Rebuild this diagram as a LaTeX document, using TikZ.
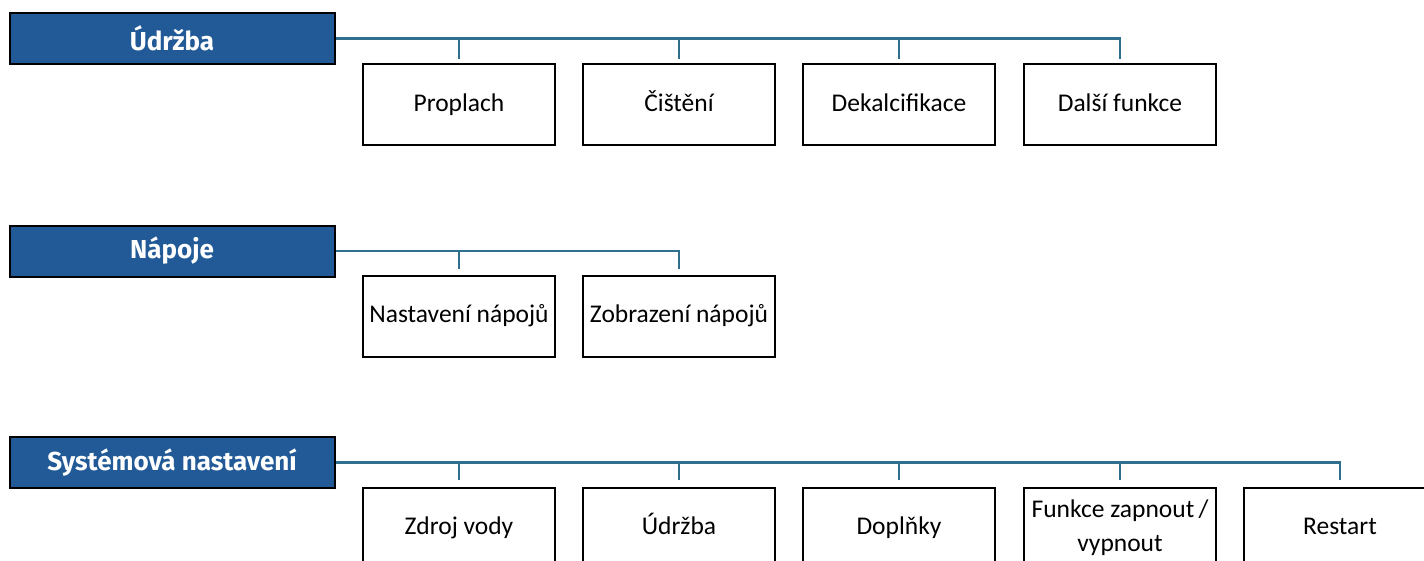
\documentclass[tikz,border=0pt]{standalone}
\usepackage{fontspec}
\setmainfont{Carlito}
\newfontfamily\headfont{Fira Sans}
\definecolor{headblue}{HTML}{215A96}
\definecolor{linkteal}{HTML}{2F6E8C}
\begin{document}
\begin{tikzpicture}[x=1pt,y=-1pt,
    head/.style={draw=black,line width=2pt,fill=headblue,text=white,
      minimum width=325pt,minimum height=51pt,inner sep=0pt,
      font=\headfont\bfseries\fontsize{26}{29}\selectfont},
    item/.style={draw=black,line width=2pt,fill=white,align=center,
      minimum width=192pt,minimum height=81pt,inner sep=0pt,
      font=\fontsize{25.5}{34}\selectfont},
    link/.style={draw=linkteal,line width=2.4pt}]
    \clip (0,0) rectangle (1424,560);
    \fill[white] (0,0) rectangle (1424,560);
    % headers
    \node[head] (hU) at (172,38.5) {Údržba};
    \node[head] (hN) at (172,251) {Nápoje};
    \node[head] (hS) at (172,462.5) {Systémová nastavení};
    % Údržba
    \node[item] (u1) at (459,104.5) {\strut Proplach};
    \node[item] (u2) at (679,104.5) {\strut Čištění};
    \node[item] (u3) at (899,104.5) {\strut Dekalcifikace};
    \node[item] (u4) at (1120,104.5) {\strut Další funkce};
    % Nápoje
    \node[item] (n1) at (459,316) {\strut Nastavení nápojů};
    \node[item] (n2) at (679,316) {\strut Zobrazení nápojů};
    % Systémová nastavení
    \node[item] (s1) at (459,528) {\strut Zdroj vody};
    \node[item] (s2) at (679,528) {\strut Údržba};
    \node[item] (s3) at (899,528) {\strut Doplňky};
    \node[item] (s4) at (1120,528) {Funkce zapnout\,/\\vypnout};
    \node[item] (s5) at (1340,528) {\strut Restart};
    % connectors
    \draw[link,shorten >=4pt] (hU.east) -| (u4.north);
    \foreach \n in {u1,u2,u3}
      \draw[link,shorten >=4pt] (\n.north |- hU.east) -- (\n.north);
    \draw[link,shorten >=6pt] (hN.east) -| (n2.north);
    \draw[link,shorten >=6pt] (n1.north |- hN.east) -- (n1.north);
    \draw[link,shorten >=7pt] (hS.east) -| (s5.north);
    \foreach \n in {s1,s2,s3,s4}
      \draw[link,shorten >=7pt] (\n.north |- hS.east) -- (\n.north);
\end{tikzpicture}
\end{document}
